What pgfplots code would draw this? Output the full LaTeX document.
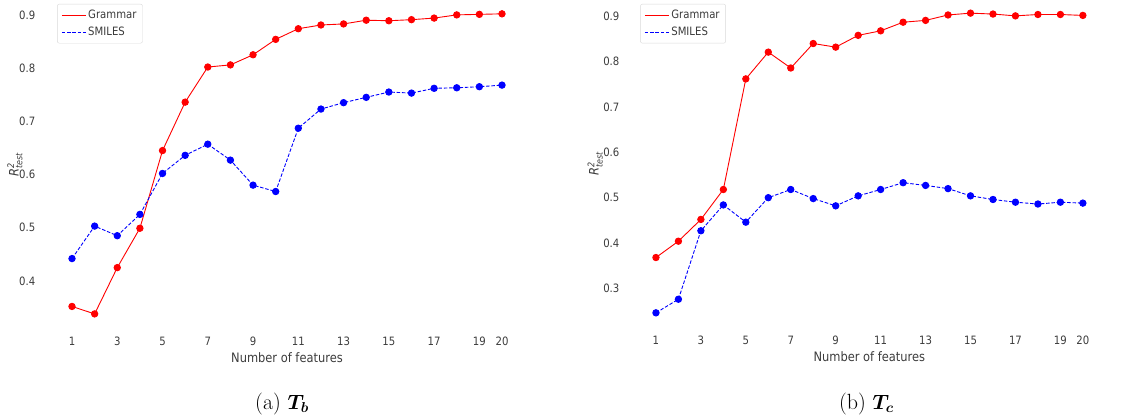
\documentclass[border=0pt]{standalone}
\usepackage{pgfplots}
\pgfplotsset{compat=1.18}
\usepackage{amsmath}
\usepackage{bm}
\usepackage{fontspec}
\newfontfamily\dejavu[FakeStretch=0.88]{DejaVu Sans}

\definecolor{txt}{RGB}{60,60,60}

\pgfplotstableread{
n  gram   smiles
1  0.352  0.442
2  0.338  0.503
3  0.425  0.485
4  0.499  0.525
5  0.645  0.602
6  0.736  0.636
7  0.802  0.657
8  0.806  0.627
9  0.825  0.580
10 0.854  0.568
11 0.874  0.687
12 0.881  0.723
13 0.883  0.735
14 0.890  0.745
15 0.889  0.755
16 0.891  0.753
17 0.894  0.762
18 0.900  0.763
19 0.901  0.765
20 0.902  0.768
}\tbTb

\pgfplotstableread{
n  gram   smiles
1  0.368  0.246
2  0.404  0.276
3  0.452  0.427
4  0.518  0.484
5  0.762  0.446
6  0.821  0.500
7  0.786  0.518
8  0.840  0.498
9  0.832  0.482
10 0.858  0.504
11 0.868  0.518
12 0.887  0.533
13 0.891  0.527
14 0.903  0.520
15 0.907  0.504
16 0.905  0.496
17 0.901  0.490
18 0.904  0.486
19 0.904  0.490
20 0.902  0.488
}\tbTc

\pgfplotsset{
  featstyle/.style={
    scale only axis,
    xmin=0.05, xmax=20.95,
    xtick={1,3,5,7,9,11,13,15,17,19,20},
    axis line style={draw=none},
    major tick length=0pt,
    tick style={draw=none},
    /pgf/number format/assume math mode=true,
    yticklabel style={/pgf/number format/fixed,/pgf/number format/precision=1,
      /pgf/number format/fixed zerofill},
    tick label style={font=\dejavu\fontsize{11.5}{12}\selectfont, text=txt},
    xticklabel style={anchor=center, yshift=-13pt},
    yticklabel style={anchor=east, inner sep=0pt, xshift=-15pt},
    label style={font=\dejavu\fontsize{13}{14}\selectfont, text=txt},
    xlabel={Number of features},
    ylabel={\itshape R$^{\text{2}}_{\text{test}}$},
    every axis x label/.append style={at={(axis description cs:0.5,-0.088)}, anchor=center},
    legend style={anchor=north west, draw=black!15, rounded corners=2pt,
      font=\dejavu\fontsize{11.5}{12}\selectfont, text=txt,
      inner xsep=4pt, inner ysep=4pt, row sep=3pt,
      /tikz/every even column/.append style={column sep=8pt}},
    legend cell align=left,
    legend image code/.code={\draw[#1,mark=none] (0pt,0pt) -- (24pt,0pt);},
  },
  gramline/.style={color=red, line width=0.9pt, mark=*, mark size=3.2pt,
    mark options={solid, fill=red, draw=red}},
  smileline/.style={color=blue, line width=0.9pt, dash pattern=on 3.5pt off 1.8pt,
    mark=*, mark size=3.2pt, mark options={solid, fill=blue, draw=blue}},
}

\begin{document}
\begin{tikzpicture}[x=1pt,y=1pt]
\useasboundingbox (0,0) rectangle (1130,417);

% left panel: boiling temperature
\begin{axis}[featstyle, name=tb,
  at={(50.5pt,88.2pt)}, anchor=south west,
  width=473pt, height=328.8pt,
  ymin=0.310, ymax=0.928,
  ytick={0.4,0.5,0.6,0.7,0.8,0.9},
  every axis y label/.append style={at={(axis description cs:-0.075,0.5)}, anchor=center},
  legend style={at={(axis description cs:0.014,0.988)}},
]
\addplot[gramline] table[x=n,y=gram] {\tbTb};
\addlegendentry{Grammar}
\addplot[smileline] table[x=n,y=smiles] {\tbTb};
\addlegendentry{SMILES}
\end{axis}

% right panel: critical temperature
\begin{axis}[featstyle, name=tc,
  at={(634.6pt,89.2pt)}, anchor=south west,
  width=469.6pt, height=327.8pt,
  ymin=0.213, ymax=0.936,
  ytick={0.3,0.4,0.5,0.6,0.7,0.8,0.9},
  every axis y label/.append style={at={(axis description cs:-0.084,0.5)}, anchor=center},
  legend style={at={(axis description cs:0.012,0.988)}},
]
\addplot[gramline] table[x=n,y=gram] {\tbTc};
\addlegendentry{Grammar}
\addplot[smileline] table[x=n,y=smiles] {\tbTc};
\addlegendentry{SMILES}
\end{axis}

% subfigure captions
\node[font=\fontsize{22}{26}\selectfont, anchor=center]
  at ([xshift=-5pt,yshift=-75.5pt]tb.south) {(a) $\bm{T_b}$};
\node[font=\fontsize{22}{26}\selectfont, anchor=center]
  at ([xshift=-3pt,yshift=-76pt]tc.south) {(b) $\bm{T_c}$};
\end{tikzpicture}
\end{document}
